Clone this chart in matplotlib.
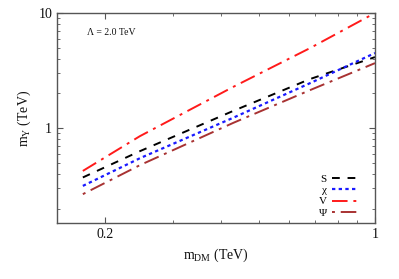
import matplotlib
matplotlib.use("Agg")
import matplotlib.pyplot as plt
from matplotlib.ticker import FixedLocator, NullFormatter, LogLocator

plt.rcParams['font.family'] = ['Liberation Serif', 'DejaVu Serif']
plt.rcParams['mathtext.fontset'] = 'custom'
plt.rcParams['mathtext.rm'] = 'Liberation Serif'
plt.rcParams['mathtext.it'] = 'Liberation Serif'

m_dm = [0.175, 0.246, 0.429, 0.679, 1.0]
S = [0.373, 0.631, 1.41, 2.67, 4.14]
chi = [0.315, 0.548, 1.23, 2.46, 4.49]
V = [0.425, 0.852, 2.28, 4.96, 10.0]
Psi = [0.267, 0.477, 1.11, 2.14, 3.67]

labels = ['S', 'χ', 'V', 'Ψ']
colors = ['black', '#1a1aff', '#ff1a1a', '#a83232']

fig = plt.figure(figsize=(3.99, 2.79), dpi=100)
ax = fig.add_axes([57/399, 1-223/279, (375-57)/399, (223-13)/279])

ax.plot(m_dm, S, color=colors[0], lw=1.4, dashes=(4, 4), label=labels[0])
ax.plot(m_dm, chi, color=colors[1], lw=1.6, dashes=(1.5, 1.5), label=labels[1])
ax.plot(m_dm, V, color=colors[2], lw=1.4, dashes=(8, 3, 1.5, 3), label=labels[2])
ax.plot(m_dm, Psi, color=colors[3], lw=1.4, dashes=(1.5, 3, 8, 3), label=labels[3])

ax.set_xscale('log')
ax.set_yscale('log')
ax.set_xlim(0.15, 1.0)
ax.set_ylim(0.15, 10)

ax.xaxis.set_major_locator(FixedLocator([0.2, 1.0]))
ax.set_xticklabels(['0.2', '1'])
ax.xaxis.set_minor_locator(FixedLocator([0.3, 0.4, 0.5, 0.6, 0.7, 0.8, 0.9]))
ax.xaxis.set_minor_formatter(NullFormatter())
ax.yaxis.set_major_locator(FixedLocator([1, 10]))
ax.set_yticklabels(['1', '10'])
ax.yaxis.set_minor_locator(LogLocator(base=10, subs=range(2, 10)))
ax.yaxis.set_minor_formatter(NullFormatter())

ax.tick_params(which='both', direction='in', top=True, right=True, labelsize=10,
               color='#555555', labelcolor='#111111')
ax.tick_params(which='major', length=4)
ax.tick_params(which='minor', length=2)
for s in ax.spines.values():
    s.set_color('#555555')
    s.set_linewidth(1.0)

ax.set_xlabel('m$_{\\rm DM}$ (TeV)', fontsize=10, color='#111111')
ax.set_ylabel('m$_{\\rm Y}$ (TeV)', fontsize=10, color='#111111')

ax.text(0.095, 0.905, 'Λ = 2.0 TeV', transform=ax.transAxes, fontsize=7, va='center', ha='left', color='#111111')

leg = ax.legend(loc='lower right', bbox_to_anchor=(0.957, 0.005), frameon=False,
                markerfirst=False, fontsize=8, handlelength=2.2, labelspacing=0.12,
                handletextpad=0.5, borderaxespad=0.0)

fig.savefig('out.png', dpi=100)
